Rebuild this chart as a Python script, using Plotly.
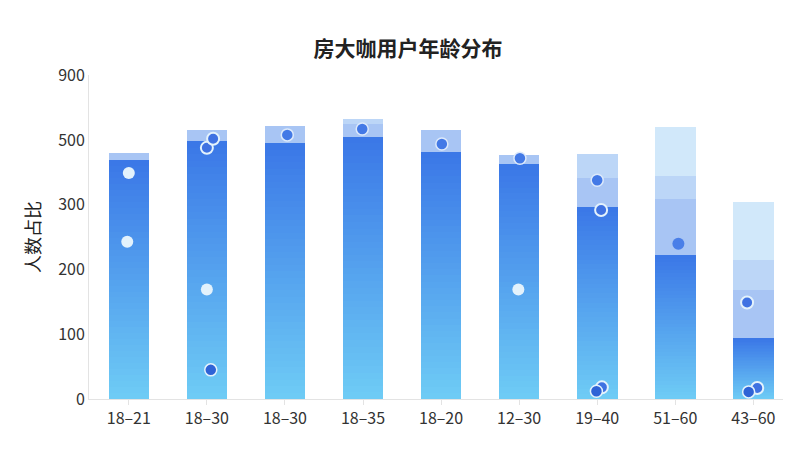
import plotly.graph_objects as go

labels = ['18–21', '18–30', '18–30', '18–35', '18–20', '12–30', '19–40', '51–60', '43–60']
main = [369, 398, 395, 405, 382, 363, 297, 222, 94]
seg1 = [11, 17, 26, 20, 33, 14, 45, 87, 75]
seg2 = [0, 0, 0, 7, 0, 0, 36, 36, 46]
seg3 = [0, 0, 0, 0, 0, 0, 0, 75, 90]

# scatter points: bar index, jitter, value, style
pt_bar = [0, 0, 1, 1, 1, 1, 2, 3, 4, 5, 5, 6, 6, 6, 6, 7, 8, 8, 8]
pt_jit = [0.0, -0.02, 0.0, 0.08, 0.0, 0.05, 0.03, -0.01, 0.01, 0.01, -0.01, 0.0, 0.05, -0.01, 0.06, 0.04, -0.08, -0.06, 0.05]
pt_val = [349, 243, 388, 402, 169, 45, 408, 417, 394, 372, 169, 338, 292, 12, 18, 240, 149, 11, 17]
pt_kind = ['light', 'light', 'ring', 'ring', 'light', 'dark', 'blue', 'blue', 'blue', 'blue', 'light',
           'blue', 'ring', 'dark', 'ring', 'flat', 'ring', 'dark', 'ring']

xs = list(range(len(labels)))
fig = go.Figure()

# gradient main bars built from thin slices
n = 40
top, bot = (59, 120, 231), (110, 203, 245)
for k in range(n):
    t = k / (n - 1)
    c = tuple(round(bot[j] + (top[j] - bot[j]) * t) for j in range(3))
    fig.add_trace(go.Bar(x=xs, y=[v / n for v in main], width=0.52,
                         marker=dict(color='rgb(%d,%d,%d)' % c, line=dict(width=0)),
                         showlegend=False, hoverinfo='skip'))
for vals, col in [(seg1, '#a8c5f4'), (seg2, '#bcd6f7'), (seg3, '#d1e8fa')]:
    fig.add_trace(go.Bar(x=xs, y=vals, width=0.52, marker=dict(color=col, line=dict(width=0)),
                         showlegend=False))

styles = {
    'light': dict(color='#e3f2fc', line=dict(width=0)),
    'ring': dict(color='#3f72e2', line=dict(width=2, color='#e3f2fc')),
    'blue': dict(color='#4379e6', line=dict(width=1.5, color='#dce9fb')),
    'dark': dict(color='#2f63d6', line=dict(width=1.5, color='#e3f2fc')),
    'flat': dict(color='#4a7fe8', line=dict(width=0)),
}
for kind, st in styles.items():
    idx = [i for i, k in enumerate(pt_kind) if k == kind]
    fig.add_trace(go.Scatter(x=[pt_bar[i] + pt_jit[i] for i in idx], y=[pt_val[i] for i in idx],
                             mode='markers', marker=dict(size=12, **st), showlegend=False))

fig.update_layout(
    width=800, height=450, barmode='stack', bargap=0.4,
    plot_bgcolor='white', paper_bgcolor='white',
    margin=dict(l=81, r=25, t=67, b=59),
    font=dict(family='Noto Sans CJK SC', color='#333', size=16),
    title=dict(text='<b>房大咖用户年龄分布</b>', x=0.5, y=0.925, xanchor='center',
               font=dict(size=21, color='#222')),
    xaxis=dict(range=[-0.51, 8.38], tickvals=xs, ticktext=labels, showline=True,
               linecolor='#e3e3e3', ticks='outside', tickcolor='#e3e3e3', ticklen=5,
               showgrid=False, zeroline=False),
    yaxis=dict(range=[0, 500.5], tickvals=[0, 100, 200, 300, 400, 500],
               ticktext=['0', '100', '200', '300', '500', '900'], showline=True,
               linecolor='#e3e3e3', showgrid=False, zeroline=False,
               title=dict(text='人数占比', font=dict(size=18, color='#222'), standoff=12)),
)
fig.write_html('out.html')
